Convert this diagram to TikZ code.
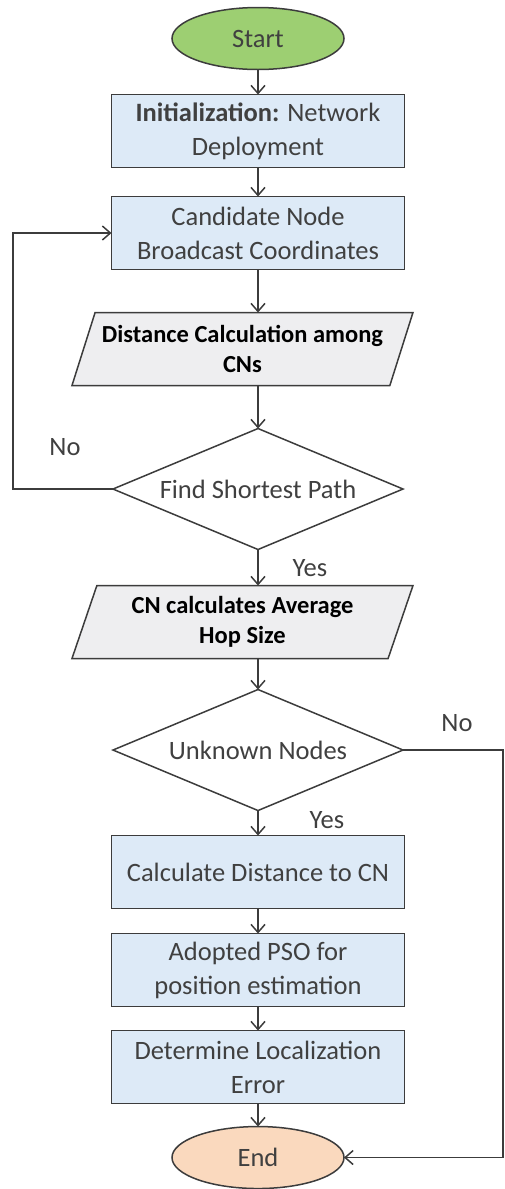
\documentclass[tikz,border=0pt]{standalone}
\usepackage{fontspec}
\setmainfont{Carlito}
\usetikzlibrary{shapes.geometric, arrows.meta, positioning, calc}
\definecolor{lineColor}{RGB}{60, 60, 60}
\definecolor{textColor}{RGB}{64, 64, 64}
\definecolor{startColor}{RGB}{157, 207, 114}
\definecolor{endColor}{RGB}{250, 217, 190}
\definecolor{processColor}{RGB}{221, 234, 247}
\definecolor{ioColor}{RGB}{238, 238, 240}
\tikzstyle{terminal} = [ellipse, minimum width=172pt, minimum height=62pt, inner sep=0pt, outer sep=0pt, draw=lineColor, line width=1.5pt, text=textColor]
\tikzstyle{process} = [rectangle, minimum width=293pt, minimum height=73pt, inner sep=0pt, outer sep=0pt, align=center, draw=lineColor, line width=1.5pt, fill=processColor, text=textColor]
\tikzstyle{io} = [trapezium, trapezium left angle=64, trapezium right angle=116, trapezium stretches body, minimum width=341pt, minimum height=73pt, inner sep=0pt, outer sep=0pt, align=center, draw=lineColor, line width=1.5pt, fill=ioColor, font=\fontsize{24.5}{30}\selectfont\bfseries]
\tikzstyle{decision} = [diamond, aspect=2.4, minimum width=290pt, minimum height=121pt, inner sep=0pt, outer sep=0pt, draw=lineColor, line width=1.5pt, fill=white, text=textColor]
\tikzstyle{arrow} = [line width=1.5pt, draw=lineColor, ->, >={Straight Barb[length=8pt, width=14pt]}]
\tikzstyle{label} = [text=textColor, inner sep=0pt]

\begin{document}
\begin{tikzpicture}[x=1pt, y=-1pt, node distance=25pt, font=\fontsize{26.5}{34}\selectfont]
	\useasboundingbox (0,0) rectangle (504,1189);
	\node (start) [terminal, fill=startColor] at (258,38.5) {Start};
	\node (init) [process, below=25pt of start] {\textbf{Initialization:} Network\\Deployment};
	\node (cand) [process, below=29pt of init] {Candidate Node\\Broadcast Coordinates};
	\node (dist) [io, below=43pt of cand, xshift=-15.5pt] {Distance Calculation among\\CNs};
	\node (find) [decision, below=43pt of cand.south |- dist.south] {Find Shortest Path};
	\node (hop) [io, below=36pt of find, xshift=-15.5pt] {CN calculates Average\\Hop Size};
	\node (unknown) [decision, below=31pt of find.south |- hop.south] {Unknown Nodes};
	\node (calc) [process, below=25pt of unknown] {Calculate Distance to CN};
	\node (pso) [process, below=25pt of calc] {Adopted PSO for\\position estimation};
	\node (error) [process, below=24pt of pso] {Determine Localization\\Error};
	\node (end) [terminal, fill=endColor, below=23pt of error] {End};

	\node (nofind) [label] at (65,447) {No};
	\node (yesfind) [label] at (310,568) {Yes};
	\node (nounknown) [label] at (457,723) {No};
	\node (yesunknown) [label] at (327,820) {Yes};

	\draw[arrow] (start) -- (init);
	\draw[arrow] (init) -- (cand);
	\draw[arrow] (cand.south) -- (cand.south |- dist.north);
	\draw[arrow] (dist.south -| find.north) -- (find);
	\draw[arrow] (find.south) -- (find.south |- hop.north);
	\draw[arrow] (hop.south -| unknown.north) -- (unknown);
	\draw[arrow] (unknown) -- (calc);
	\draw[arrow] (calc) -- (pso);
	\draw[arrow] (pso) -- (error);
	\draw[arrow] (error) -- (end);
	\draw[arrow] (find.west) -- ++(-100,0) |- (cand.west);
	\draw[arrow] (unknown.east) -- (503,0 |- unknown.east) |- (end.east);
\end{tikzpicture}
\end{document}
